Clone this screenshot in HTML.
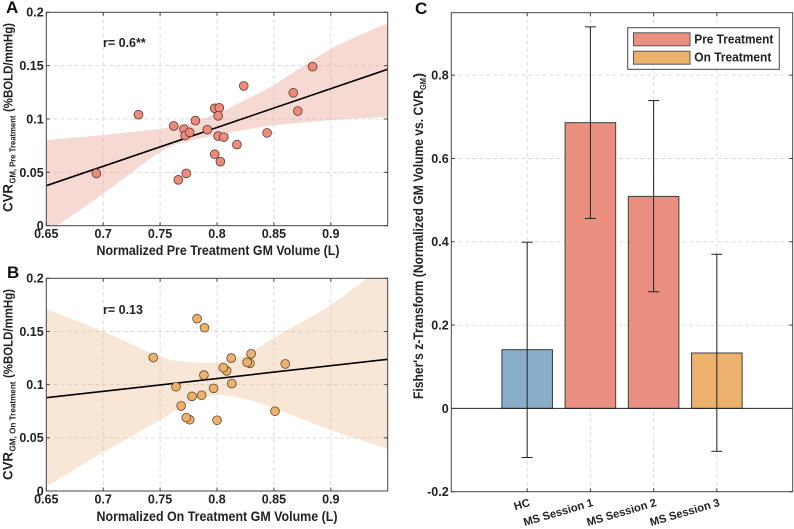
<!DOCTYPE html>
<html lang="en">
<head>
<meta charset="utf-8">
<title>Gray matter volume vs. CVR</title>
<style>
html,body{margin:0;padding:0;background:#fff;width:794px;height:529px;overflow:hidden}
svg{display:block;filter:blur(.3px)}
text{font-family:"Liberation Sans",sans-serif;font-weight:bold;fill:#222}
</style>
</head>
<body>
<svg id="figure" xmlns="http://www.w3.org/2000/svg" width="794" height="529" viewBox="0 0 794 529">
  <defs>
    <clipPath id="clip-a"><rect x="46.3" y="12.3" width="341.4" height="213.4"/></clipPath>
    <clipPath id="clip-b"><rect x="46.3" y="278.3" width="341.4" height="212.7"/></clipPath>
  </defs>
  <g id="panel-a"></g>
  <g id="panel-b"></g>
  <g id="panel-c"></g>

  <text x="6" y="13" font-size="17" style="fill:#111">A</text>
  <text x="7" y="278" font-size="17" style="fill:#111">B</text>
  <text x="415" y="14" font-size="17" style="fill:#111">C</text>

  <text x="103" y="47" font-size="12.5">r= 0.6**</text>
  <text x="103" y="314" font-size="12.5">r= 0.13</text>

  <text x="218" y="255" font-size="13.5" text-anchor="middle" textLength="243" lengthAdjust="spacingAndGlyphs">Normalized Pre Treatment GM Volume (L)</text>
  <text x="217" y="521" font-size="13.5" text-anchor="middle" textLength="241" lengthAdjust="spacingAndGlyphs">Normalized On Treatment GM Volume (L)</text>

  <g transform="translate(12.7 212) rotate(-90)">
    <text x="0" y="0" font-size="14" textLength="28" lengthAdjust="spacingAndGlyphs">CVR</text>
    <text x="28.5" y="3" font-size="8.2" textLength="68" lengthAdjust="spacingAndGlyphs">GM, Pre Treatment</text>
    <text x="100" y="0" font-size="13" textLength="89" lengthAdjust="spacingAndGlyphs">(%BOLD/mmHg)</text>
  </g>
  <g transform="translate(12.7 480) rotate(-90)">
    <text x="0" y="0" font-size="14" textLength="28" lengthAdjust="spacingAndGlyphs">CVR</text>
    <text x="28.5" y="3" font-size="8.2" textLength="70" lengthAdjust="spacingAndGlyphs">GM, On Treatment</text>
    <text x="102" y="0" font-size="13" textLength="89" lengthAdjust="spacingAndGlyphs">(%BOLD/mmHg)</text>
  </g>
  <g transform="translate(423 399) rotate(-90)">
    <text x="0" y="0" font-size="13.5" textLength="309" lengthAdjust="spacingAndGlyphs">Fisher's z-Transform (Normalized GM Volume vs. CVR</text>
    <text x="309" y="3" font-size="8" textLength="12" lengthAdjust="spacingAndGlyphs">GM</text>
    <text x="321.5" y="0" font-size="13.5">)</text>
  </g>

  <g>
    <rect x="627.7" y="27.7" width="151.6" height="41.6" fill="#fff" stroke="#444" stroke-width="1"/>
    <rect x="633.5" y="32.8" width="56.5" height="13" fill="#eb8f80" stroke="#555" stroke-width="1"/>
    <rect x="633.5" y="51.2" width="56.5" height="13" fill="#ecb26d" stroke="#555" stroke-width="1"/>
    <text x="694.3" y="43.5" font-size="12.5" textLength="79" lengthAdjust="spacingAndGlyphs">Pre Treatment</text>
    <text x="694.3" y="61.5" font-size="12.5" textLength="77" lengthAdjust="spacingAndGlyphs">On Treatment</text>
  </g>
</svg>
<script>
// Panel A data
const preVolume = [0.694,0.731,0.762,0.766,0.771,0.772,0.773,0.776,0.781,0.7915,0.798,0.798,0.802,0.801,0.801,0.803,0.806,0.8175,0.8235,0.844,0.867,0.871,0.884];
const preCvr = [0.049,0.104,0.0935,0.043,0.0905,0.0845,0.049,0.0875,0.0985,0.09,0.067,0.11,0.1105,0.103,0.084,0.06,0.083,0.076,0.131,0.087,0.1245,0.1075,0.149];
const preFitX = [0.65,0.95];
const preFitY = [0.0375,0.1466];
const preBandX = [0.65,0.7,0.75,0.775,0.8,0.825,0.85,0.9,0.95];
const preBandUpper = [0.0803,0.085,0.091,0.096,0.105,0.118,0.132,0.1655,0.19];
const preBandLower = [-0.007,0.03,0.069,0.079,0.085,0.09,0.094,0.099,0.102];
// Panel B data
const onVolume = [0.744,0.764,0.7685,0.776,0.773,0.778,0.7825,0.7865,0.7885,0.789,0.797,0.8,0.8085,0.8055,0.8125,0.813,0.829,0.8265,0.83,0.851,0.86];
const onCvr = [0.1255,0.098,0.08,0.067,0.069,0.089,0.162,0.09,0.109,0.1535,0.0965,0.0665,0.113,0.116,0.125,0.101,0.12,0.121,0.129,0.075,0.1195];
const onFitX = [0.65,0.95];
const onFitY = [0.0877,0.1238];
const onBandX = [0.65,0.7,0.75,0.775,0.8,0.825,0.85,0.9,0.95];
const onBandUpper = [0.171,0.15,0.1265,0.1215,0.121,0.128,0.144,0.175,0.215];
const onBandLower = [0.004,0.0364,0.0668,0.083,0.09,0.0865,0.0777,0.0574,0.0395];
// Shared scatter ticks
const scatterXTicks = [0.65,0.7,0.75,0.8,0.85,0.9];
const scatterXLabels = ["0.65","0.7","0.75","0.8","0.85","0.9"];
const scatterYTicks = [0,0.05,0.1,0.15,0.2];
const scatterYLabels = ["0","0.05","0.1","0.15","0.2"];
// Panel C data
const groups = ["HC","MS Session 1","MS Session 2","MS Session 3"];
const zValues = [0.141,0.686,0.509,0.133];
const zUpper = [0.399,0.916,0.739,0.37];
const zLower = [-0.118,0.456,0.28,-0.103];
const barColors = ["#88aec9","#eb8f80","#eb8f80","#ecb26d"];
const barYTicks = [-0.2,0,0.2,0.4,0.6,0.8];
const barYLabels = ["-0.2","0","0.2","0.4","0.6","0.8"];

const NS = "http://www.w3.org/2000/svg";
function make(parent, tag, attrs, txt){
  const e = document.createElementNS(NS, tag);
  for (const k in attrs) e.setAttribute(k, attrs[k]);
  if (txt !== undefined) e.textContent = txt;
  parent.appendChild(e);
  return e;
}
function scale(d0,d1,r0,r1){ return v => r0 + (v-d0)/(d1-d0)*(r1-r0); }
// Smooth curve segments through a list of screen points
function curveThrough(p){
  let d = "";
  for (let i=0;i<p.length-1;i++){
    const a=p[Math.max(i-1,0)], b=p[i], c=p[i+1], e=p[Math.min(i+2,p.length-1)];
    d += " C"+(b[0]+(c[0]-a[0])/6)+" "+(b[1]+(c[1]-a[1])/6)+" "+(c[0]-(e[0]-b[0])/6)+" "+(c[1]-(e[1]-b[1])/6)+" "+c[0]+" "+c[1];
  }
  return d;
}

const GRID = "#dcdcdc", AXIS = "#444";

function drawScatter(cfg){
  const g = document.getElementById(cfg.id);
  const L=46.3,R=387.7,T=cfg.top,B=cfg.bottom;
  const x = scale(0.65,0.95,L,R), y = scale(0,0.2,B,T);

  scatterXTicks.forEach((t,i)=>{
    if (i>0){
      const gl = make(g,"line",{x1:x(t),x2:x(t),y1:T,y2:B,stroke:GRID,"stroke-width":1,"stroke-dasharray":"4 3"});
      
      
    }
  });
  scatterYTicks.forEach((t,i)=>{
    if (i>0 && i<scatterYTicks.length-1){
      const gl = make(g,"line",{x1:L,x2:R,y1:y(t),y2:y(t),stroke:GRID,"stroke-width":1,"stroke-dasharray":"4 3"});
      
      
    }
  });

  const up = cfg.bandX.map((v,i)=>[x(v),y(cfg.upper[i])]);
  const lo = cfg.bandX.map((v,i)=>[x(v),y(cfg.lower[i])]).reverse();
  const bandPath = "M"+up[0][0]+" "+up[0][1]+curveThrough(up)+" L"+lo[0][0]+" "+lo[0][1]+curveThrough(lo)+" Z";
  const band = make(g,"path",{d:bandPath,fill:cfg.bandFill,"fill-opacity":0.3,"clip-path":"url(#"+cfg.clip+")"});
  
  

  const fit = make(g,"line",{x1:x(cfg.fitX[0]),y1:y(cfg.fitY[0]),x2:x(cfg.fitX[1]),y2:y(cfg.fitY[1]),stroke:"#000","stroke-width":1.6});
  
  

  cfg.xs.forEach((v,i)=>{
    const c = make(g,"circle",{cx:x(v),cy:y(cfg.ys[i]),r:4.4,fill:cfg.pointFill,stroke:cfg.pointStroke,"stroke-width":0.8});
    
    
  });

  const frame = make(g,"rect",{x:L,y:T,width:R-L,height:B-T,fill:"none",stroke:AXIS,"stroke-width":1});
  
  

  scatterXTicks.forEach((t,i)=>{
    const a = make(g,"line",{x1:x(t),x2:x(t),y1:B,y2:B-3.5,stroke:AXIS,"stroke-width":1});
    
    
    const b = make(g,"line",{x1:x(t),x2:x(t),y1:T,y2:T+3.5,stroke:AXIS,"stroke-width":1});
    
    
    const l = make(g,"text",{x:x(t),y:B+12.5,"font-size":12.5,"text-anchor":"middle"},scatterXLabels[i]);
    
    
  });
  scatterYTicks.forEach((t,i)=>{
    const a = make(g,"line",{x1:L,x2:L+3.5,y1:y(t),y2:y(t),stroke:AXIS,"stroke-width":1});
    
    
    const b = make(g,"line",{x1:R,x2:R-3.5,y1:y(t),y2:y(t),stroke:AXIS,"stroke-width":1});
    
    
    const l = make(g,"text",{x:L-2.6,y:y(t)+4.4,"font-size":12.5,"text-anchor":"end"},scatterYLabels[i]);
    
    
  });
}

drawScatter({id:"panel-a",top:12.3,bottom:225.7,clip:"clip-a",xs:preVolume,ys:preCvr,fitX:preFitX,fitY:preFitY,bandX:preBandX,upper:preBandUpper,lower:preBandLower,bandFill:"rgb(228,128,112)",pointFill:"#ee8a7a",pointStroke:"#5b3a35"});
drawScatter({id:"panel-b",top:278.3,bottom:491,clip:"clip-b",xs:onVolume,ys:onCvr,fitX:onFitX,fitY:onFitY,bandX:onBandX,upper:onBandUpper,lower:onBandLower,bandFill:"rgb(232,175,118)",pointFill:"#eeb06b",pointStroke:"#5b4630"});

(function(){
  const g = document.getElementById("panel-c");
  const L=451.3,R=792.7,T=12.7,B=491.7;
  const x = scale(-0.2,5.2,L,R), y = scale(-0.2,0.95,B,T);
  const barW = 0.8*(x(1)-x(0));
  const capW = 11;

  groups.forEach((n,i)=>{
    const gl = make(g,"line",{x1:x(i+1),x2:x(i+1),y1:T,y2:B,stroke:GRID,"stroke-width":1,"stroke-dasharray":"4 3"});
    
    
  });
  barYTicks.forEach(t=>{
    if (t>0){
      const gl = make(g,"line",{x1:L,x2:R,y1:y(t),y2:y(t),stroke:GRID,"stroke-width":1,"stroke-dasharray":"4 3"});
      
      
    }
  });

  groups.forEach((n,i)=>{
    const cx = x(i+1);
    const bar = make(g,"rect",{x:cx-barW/2,y:y(zValues[i]),width:barW,height:y(0)-y(zValues[i]),fill:barColors[i],stroke:"#3d3d3d","stroke-width":1});
    
    
  });

  const zero = make(g,"line",{x1:L,x2:R,y1:y(0),y2:y(0),stroke:"#222","stroke-width":1});
  
  

  groups.forEach((n,i)=>{
    const cx = x(i+1);
    const stem = make(g,"line",{x1:cx,x2:cx,y1:y(zUpper[i]),y2:y(zLower[i]),stroke:"#222","stroke-width":1});
    
    
    const capTop = make(g,"line",{x1:cx-capW/2,x2:cx+capW/2,y1:y(zUpper[i]),y2:y(zUpper[i]),stroke:"#222","stroke-width":1});
    
    
    const capLow = make(g,"line",{x1:cx-capW/2,x2:cx+capW/2,y1:y(zLower[i]),y2:y(zLower[i]),stroke:"#222","stroke-width":1});
    
    
  });

  const frame = make(g,"rect",{x:L,y:T,width:R-L,height:B-T,fill:"none",stroke:AXIS,"stroke-width":1});
  
  

  groups.forEach((n,i)=>{
    const cx = x(i+1);
    const a = make(g,"line",{x1:cx,x2:cx,y1:B,y2:B-3.5,stroke:AXIS,"stroke-width":1});
    
    
    const b = make(g,"line",{x1:cx,x2:cx,y1:T,y2:T+3.5,stroke:AXIS,"stroke-width":1});
    
    
    const l = make(g,"text",{"font-size":11.2,"text-anchor":"end",transform:"translate("+(cx+3.5)+" 505.7) rotate(-16.5)"},n);
    
    
  });
  barYTicks.forEach((t,i)=>{
    const a = make(g,"line",{x1:L,x2:L+3.5,y1:y(t),y2:y(t),stroke:AXIS,"stroke-width":1});
    
    
    const b = make(g,"line",{x1:R,x2:R-3.5,y1:y(t),y2:y(t),stroke:AXIS,"stroke-width":1});
    
    
    const l = make(g,"text",{x:L-2.6,y:y(t)+4.4,"font-size":12.5,"text-anchor":"end"},barYLabels[i]);
    
    
  });
})();
</script>
</body>
</html>
